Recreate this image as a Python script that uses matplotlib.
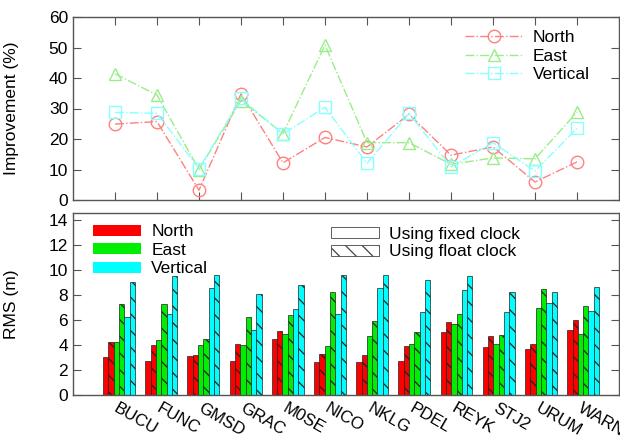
import matplotlib
matplotlib.use("Agg")
import matplotlib.pyplot as plt
import matplotlib.transforms as mtrans
from matplotlib.patches import Patch
import numpy as np

plt.rcParams['font.family'] = ['Liberation Sans', 'DejaVu Sans']

stations = ["BUCU", "FUNC", "GMSD", "GRAC", "M0SE", "NICO", "NKLG", "PDEL", "REYK", "STJ2", "URUM", "WARN"]

# Improvement (%)
imp_north = [24.9, 25.7, 3.2, 34.8, 12.2, 20.5, 17.4, 28.1, 14.7, 17.4, 5.9, 12.5]
imp_east = [41.4, 34.4, 10.0, 32.6, 21.8, 50.8, 18.8, 18.8, 11.7, 13.8, 13.5, 28.8]
imp_vert = [28.7, 28.4, 10.3, 33.3, 21.6, 30.4, 12.0, 28.4, 10.9, 18.8, 9.5, 23.5]

# RMS (m)
rms_north_fixed = [3.02, 2.72, 3.13, 2.72, 4.50, 2.64, 2.64, 2.72, 5.02, 3.82, 3.71, 5.22]
rms_north_float = [4.23, 4.03, 3.21, 4.12, 5.13, 3.32, 3.24, 3.93, 5.82, 4.72, 4.12, 6.01]
rms_east_fixed = [4.23, 4.42, 4.00, 4.00, 4.91, 3.93, 4.72, 4.12, 5.71, 4.12, 7.00, 4.91]
rms_east_float = [7.30, 7.30, 4.50, 6.23, 6.40, 8.29, 5.90, 5.02, 6.50, 4.80, 8.54, 7.11]
rms_vert_fixed = [6.23, 6.50, 8.62, 5.22, 6.92, 6.50, 8.62, 6.62, 8.43, 6.62, 7.41, 6.73]
rms_vert_float = [9.09, 9.52, 9.60, 8.10, 8.81, 9.60, 9.60, 9.22, 9.52, 8.29, 8.29, 8.70]

W, H = 620, 438
fig = plt.figure(figsize=(W / 100, H / 100), dpi=100)

def ax_rect(l, t, r, b):
    return [l / W, 1 - b / H, (r - l) / W, (b - t) / H]

ax1 = fig.add_axes(ax_rect(73, 17, 619, 200))
ax2 = fig.add_axes(ax_rect(73, 213, 619, 395))

spine_col = '#555555'
fs = 12.5

x = np.arange(1, len(stations) + 1)

# ---- top plot ----
red_l, green_l, cyan_l = '#ff8080', '#99ee88', '#88ffff'
ms = 9
ax1.plot(x, imp_north, linestyle='-.', color=red_l, lw=1.0, marker='o', ms=ms,
         mfc='none', mec=red_l, mew=1.0, label='North')
ax1.plot(x, imp_east, linestyle='-.', color=green_l, lw=1.0, marker='^', ms=ms,
         mfc='none', mec=green_l, mew=1.0, label='East')
ax1.plot(x, imp_vert, linestyle='-.', color=cyan_l, lw=1.0, marker='s', ms=ms,
         mfc='none', mec=cyan_l, mew=1.0, label='Vertical')
ax1.set_xlim(0, 13)
ax1.set_ylim(0, 60)
ax1.set_xticks(x)
ax1.set_xticklabels([])
ax1.set_yticks(np.arange(0, 61, 10))
ax1.tick_params(axis='both', direction='in', top=True, right=True, length=6,
                color=spine_col, labelsize=fs)
ax1.set_ylabel('Improvement (%)', fontsize=fs)
ax1.yaxis.set_label_coords(-0.098, 0.5)
ax1.legend(loc='upper right', bbox_to_anchor=(0.970, 1.0), frameon=False,
           fontsize=fs, handlelength=3.3, labelspacing=0.2,
           borderaxespad=0.35, handletextpad=0.6)

# ---- bottom plot ----
bw = 0.126
offsets = (np.arange(6) - 2.5) * bw
series = [
    (rms_north_fixed, '#ff0000', None),
    (rms_north_float, '#ff0000', '\\\\'),
    (rms_east_fixed, '#00ee00', None),
    (rms_east_float, '#00ee00', '\\\\'),
    (rms_vert_fixed, '#00ffff', None),
    (rms_vert_float, '#00ffff', '\\\\'),
]
plt.rcParams['hatch.linewidth'] = 0.9
for (vals, col, hatch), off in zip(series, offsets):
    ax2.bar(x + off, vals, width=bw, color=col, edgecolor='#222222', linewidth=0.5,
            hatch=hatch)
ax2.set_xlim(-0.09, 12.85)
ax2.set_ylim(0, 14.6)
ax2.set_yticks(np.arange(0, 15, 2))
ax2.set_xticks(x)
ax2.set_xticklabels(stations, rotation=-30, ha='left', va='top',
                    rotation_mode='anchor', fontsize=fs - 0.3)
offset = mtrans.ScaledTranslation(-7 / 100, -1 / 100, fig.dpi_scale_trans)
for lab in ax2.get_xticklabels():
    lab.set_transform(lab.get_transform() + offset)
ax2.tick_params(axis='y', direction='in', right=True, length=6, color=spine_col,
                labelsize=fs)
ax2.tick_params(axis='x', length=0, pad=4)
ax2.set_ylabel('RMS (m)', fontsize=fs)
ax2.yaxis.set_label_coords(-0.098, 0.5)

h_color = [Patch(facecolor='#ff0000', edgecolor='none'),
           Patch(facecolor='#00ee00', edgecolor='none'),
           Patch(facecolor='#00ffff', edgecolor='none')]
leg2 = ax2.legend(h_color, ['North', 'East', 'Vertical'], loc='upper left',
                  bbox_to_anchor=(0.016, 1.0), frameon=False, fontsize=fs,
                  handlelength=2.76, handleheight=0.6, labelspacing=0.2,
                  borderaxespad=0.25, handletextpad=0.6)
ax2.add_artist(leg2)
h_hatch = [Patch(facecolor='white', edgecolor='#444444', linewidth=0.6),
           Patch(facecolor='white', edgecolor='#444444', linewidth=0.6, hatch='\\\\')]
ax2.legend(h_hatch, ['Using fixed clock', 'Using float clock'], loc='upper left',
           bbox_to_anchor=(0.447, 1.0), frameon=False, fontsize=fs,
           handlelength=2.76, handleheight=0.6, labelspacing=0.15,
           borderaxespad=0.4, handletextpad=0.6)

for ax in (ax1, ax2):
    for s in ax.spines.values():
        s.set_color(spine_col)
        s.set_linewidth(1.0)

fig.savefig('out.png', dpi=100)
